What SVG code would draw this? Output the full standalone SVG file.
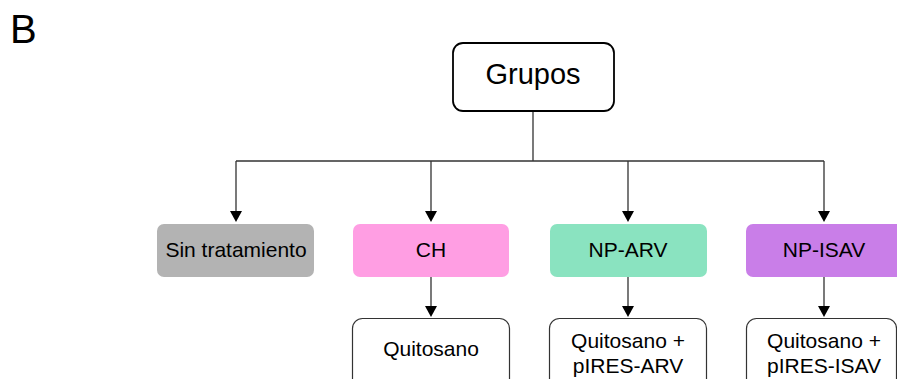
<svg xmlns="http://www.w3.org/2000/svg" width="897" height="379" viewBox="0 0 897 379">
<defs>
<path id="head" d="M-6,0 H6 L0,11 Z" fill="#000"/>
</defs>
<style>
text{font-family:"Liberation Sans",Arial,sans-serif;fill:#000;text-anchor:middle}
.t{font-size:21px}
.c{fill:none;stroke:#333;stroke-width:1.3}
.w{fill:#fff;stroke:#333;stroke-width:1.2}
</style>
<rect width="897" height="379" fill="#fff"/>
<text x="10" y="43" style="font-size:40px;text-anchor:start">B</text>
<g id="connectors">
<path class="c" d="M533,111 V161 M236,161 H824"/>
<path class="c" d="M236,161 V212 M431,161 V212 M628,161 V212 M824,161 V212"/>
<path class="c" d="M431,277 V307 M628,277 V307 M824,277 V307"/>
<use href="#head" x="236" y="211"/>
<use href="#head" x="431" y="211"/>
<use href="#head" x="628" y="211"/>
<use href="#head" x="824" y="211"/>
<use href="#head" x="431" y="306"/>
<use href="#head" x="628" y="306"/>
<use href="#head" x="824" y="306"/>
</g>
<g id="grupos">
<rect x="453" y="43" width="161" height="68" rx="10" fill="#fff" stroke="#000" stroke-width="1.8"/>
<text x="533" y="84" style="font-size:29px">Grupos</text>
</g>
<g id="sin">
<rect x="157" y="224" width="157" height="53" rx="7" fill="#b3b3b3"/>
<text class="t" x="236" y="257">Sin tratamiento</text>
</g>
<g id="ch">
<rect x="353" y="224" width="156" height="53" rx="7" fill="#ff9ee3"/>
<text class="t" x="431" y="257">CH</text>
</g>
<g id="nparv">
<rect x="550" y="224" width="157" height="53" rx="7" fill="#8ae3c0"/>
<text class="t" x="628" y="257">NP-ARV</text>
</g>
<g id="npisav">
<rect x="746" y="224" width="160" height="53" rx="7" fill="#c97ee8"/>
<text class="t" x="824" y="257">NP-ISAV</text>
</g>
<g id="quitosano">
<rect class="w" x="352.5" y="318.5" width="157" height="80" rx="10"/>
<text class="t" x="431" y="356">Quitosano</text>
</g>
<g id="qarv">
<rect class="w" x="549.5" y="318.5" width="157" height="80" rx="10"/>
<text class="t" x="628" y="348">Quitosano +</text>
<text class="t" x="628" y="373">pIRES-ARV</text>
</g>
<g id="qisav">
<rect class="w" x="746.5" y="318.5" width="150" height="80" rx="10"/>
<text class="t" x="824" y="348">Quitosano +</text>
<text class="t" x="824" y="373">pIRES-ISAV</text>
</g>
</svg>
